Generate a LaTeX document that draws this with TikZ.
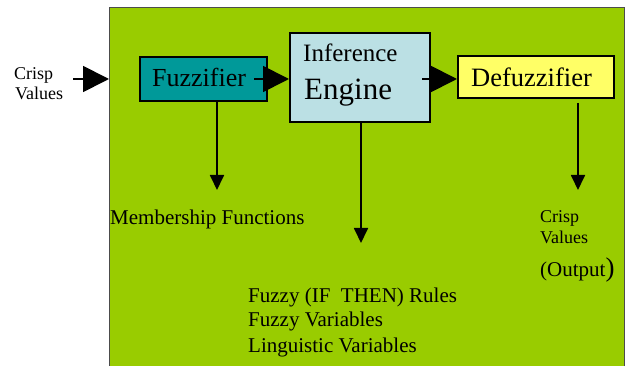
\documentclass[tikz,border=0pt]{standalone}
\usepackage{fontspec}
\setmainfont{Liberation Serif}
\usetikzlibrary{arrows.meta,calc}
\definecolor{bggreen}{RGB}{153,204,0}
\definecolor{fuzzteal}{RGB}{0,153,153}
\definecolor{inflblue}{RGB}{187,224,228}
\definecolor{defyellow}{RGB}{255,255,102}
\begin{document}
\begin{tikzpicture}[x=1pt,y=-1pt,
  blockbox/.style={draw=black,line width=1.6pt,inner sep=0pt,anchor=north west},
  lbl/.style={inner sep=0pt,anchor=base west},
  bigarrow/.style={line width=1.8pt,-{Triangle[length=26pt,width=26pt]}},
  downarrow/.style={line width=1.8pt,-{Triangle[length=15pt,width=14pt]}}]
\useasboundingbox (0,0) rectangle (625,366);
\fill[white] (0,0) rectangle (625,366);
% background panel
\node[draw=black!70,line width=1.4pt,fill=bggreen,inner sep=0pt,anchor=north west,
  minimum width=515pt,minimum height=370pt] (panel) at (109,7) {};
% blocks
\node[blockbox,fill=fuzzteal,minimum width=127pt,minimum height=44pt] (fuzz) at (139,56) {};
\node[lbl,font=\fontsize{26}{30}\selectfont] (fuzztext) at (152,87) {Fuzzifier};
\node[blockbox,fill=inflblue,minimum width=140pt,minimum height=89pt] (inf) at (289,32) {};
\node[lbl,font=\fontsize{25}{28}\selectfont] (inftext1) at (303,62) {Inference};
\node[lbl,font=\fontsize{31}{34}\selectfont] (inftext2) at (304,100) {Engine};
\node[blockbox,fill=defyellow,minimum width=156pt,minimum height=42pt] (def) at (457,55) {};
\node[lbl,font=\fontsize{26.5}{30}\selectfont] (deftext) at (471,87) {Defuzzifier};
% labels
\node[lbl,font=\fontsize{18}{20}\selectfont] (crispin1) at (14,80) {Crisp};
\node[lbl,font=\fontsize{18}{20}\selectfont] (crispin2) at (15,100) {Values};
\node[lbl,font=\fontsize{21}{24}\selectfont] (member) at (110,225) {Membership Functions};
\node[lbl,font=\fontsize{18}{20}\selectfont] (crispout1) at (540,223) {Crisp};
\node[lbl,font=\fontsize{18}{20}\selectfont] (crispout2) at (540,244) {Values};
\node[lbl,font=\fontsize{21}{24}\selectfont] (crispout3) at (540,277) {(Output{\fontsize{27}{30}\selectfont)}};
\node[lbl,font=\fontsize{21}{24}\selectfont] (rules1) at (248,303) {Fuzzy (IF\ \ THEN) Rules};
\node[lbl,font=\fontsize{21}{24}\selectfont] (rules2) at (248,327) {Fuzzy Variables};
\node[lbl,font=\fontsize{21}{24}\selectfont] (rules3) at (248,353) {Linguistic Variables};
% connectors
\coordinate (inStart) at (73,79);
\coordinate (inEnd) at (109,79);
\draw[bigarrow] (inStart) -- (inEnd);
\coordinate (fzStart) at (254,79);
\draw[bigarrow] (fzStart) -- (inf.west |- fzStart);
\coordinate (ifStart) at (422,79);
\draw[bigarrow] (ifStart) -- (def.west |- ifStart);
\coordinate (fzDownA) at (217,102);
\coordinate (fzDownB) at (217,190);
\draw[downarrow] (fzDownA) -- (fzDownB);
\coordinate (ifDownB) at (361,243);
\draw[downarrow] (inf.south -| ifDownB) -- (ifDownB);
\coordinate (dfDownA) at (578,103);
\coordinate (dfDownB) at (578,190);
\draw[downarrow] (dfDownA) -- (dfDownB);
\end{tikzpicture}
\end{document}
